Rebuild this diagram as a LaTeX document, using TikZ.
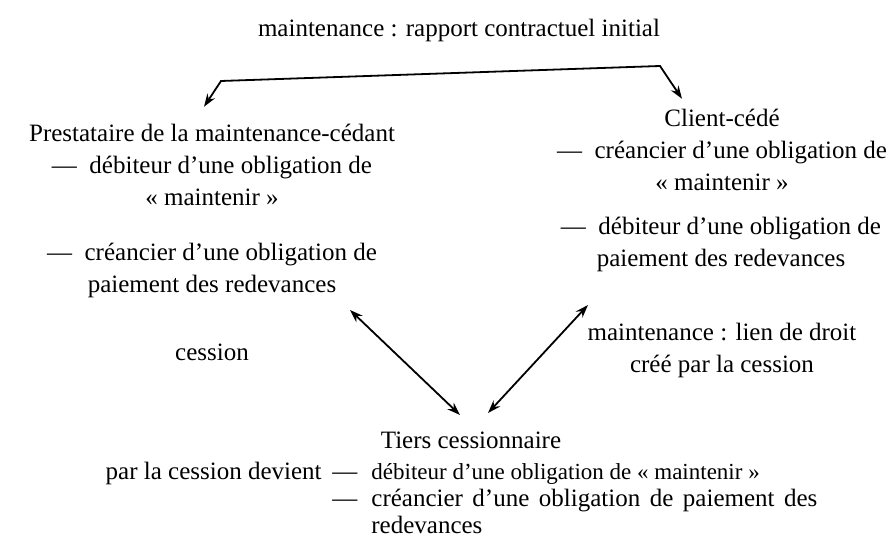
\documentclass[tikz,border=0pt]{standalone}
\usepackage{fontspec}
\setmainfont{Liberation Serif}
\usetikzlibrary{arrows.meta,positioning,calc}

\begin{document}
\begin{tikzpicture}[x=0.5pt,y=-0.5pt,
   txt/.style={align=center,inner sep=0pt,font=\fontsize{12.5}{16}\selectfont},
   low/.style={inner sep=0pt,font=\fontsize{12.5}{13.5}\selectfont},
   arr/.style={{Stealth[length=6.5pt,width=4.5pt]}-{Stealth[length=6.5pt,width=4.5pt]},line width=0.9pt}]
  \useasboundingbox (0,0) rectangle (891,550);
  \node[txt] (init) at (459,30) {maintenance : rapport contractuel initial};
  \node[txt] (prest) at (212,165) {Prestataire de la maintenance-cédant\\
     ---\ \ débiteur d'une obligation de\\ «~maintenir~»};
  \node[txt] (prestpay) at (212,270) {---\ \ créancier d'une obligation de\\
     paiement des redevances};
  \node[txt] (cession) at (212,352) {cession};
  \node[txt] (client) at (722,150) {Client-cédé\\
     ---\ \ créancier d'une obligation de\\ «~maintenir~»};
  \node[txt] (clientpay) at (721,244) {---\ \ débiteur d'une obligation de\\
     paiement des redevances};
  \node[txt] (lien) at (722,350) {maintenance : lien de droit\\ créé par la cession};
  \node[low] (tiers) at (471,440) {Tiers cessionnaire};
  \node[low,anchor=base east] (devient) at (322,480) {par la cession devient};
  \node[low,anchor=base west] (oblig) at (332,480) {\begin{tabular}[t]{@{}l@{\hspace{7pt}}l@{}}
     --- & {\fontsize{11.5}{13.5}\selectfont débiteur d'une obligation de «~maintenir~»}\\
     --- & \makebox[223pt][s]{créancier d'une obligation de paiement des}\\
         & redevances\end{tabular}};
  % contractual link at the top
  \coordinate (kl) at (221,81);
  \coordinate (kr) at (660,66);
  \draw[arr] ($(prest.north)+(-8,-17)$) -- (kl) -- (kr) -- ($(client.north)+(-40,-10)$);
  % links made by the assignment
  \draw[arr] ($(prestpay)+(138,40)$) -- ($(tiers)+(-11,-25)$);
  \draw[arr] ($(clientpay)+(-133,61)$) -- ($(tiers)+(17,-27)$);
\end{tikzpicture}
\end{document}
